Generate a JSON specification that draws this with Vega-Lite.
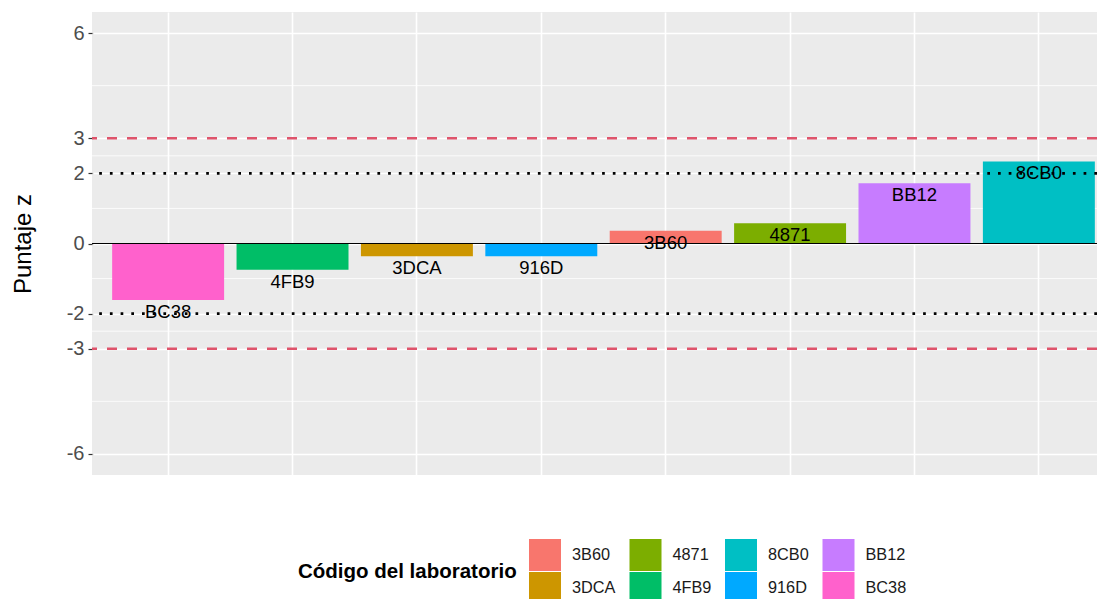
{
  "$schema": "https://vega.github.io/schema/vega-lite/v6.json",
  "width": 1005,
  "height": 463,
  "autosize": {"type": "none"},
  "padding": {"left": 92, "top": 12, "right": 0, "bottom": 124},
  "background": "white",
  "config": {"view": {"fill": "#EBEBEB", "stroke": null}, "font": "Liberation Sans"},
  "datasets": {
    "labs": [
      {"lab": "BC38", "z": -1.61},
      {"lab": "4FB9", "z": -0.75},
      {"lab": "3DCA", "z": -0.36},
      {"lab": "916D", "z": -0.36},
      {"lab": "3B60", "z": 0.36},
      {"lab": "4871", "z": 0.58},
      {"lab": "BB12", "z": 1.72},
      {"lab": "8CB0", "z": 2.34}
    ],
    "minor": [{"y": -4.5}, {"y": -2.5}, {"y": -1}, {"y": 1}, {"y": 2.5}, {"y": 4.5}],
    "zero": [{"y": 0}],
    "limits": [{"y": 3}, {"y": -3}],
    "warn": [{"y": 2}, {"y": -2}]
  },
  "layer": [
    {
      "data": {"name": "minor"},
      "mark": {"type": "rule", "color": "white", "strokeWidth": 0.8},
      "encoding": {"y": {"field": "y", "type": "quantitative", "scale": {"domain": [-6.6, 6.6], "nice": false, "zero": false}}}
    },
    {
      "data": {"name": "labs"},
      "mark": {"type": "bar"},
      "encoding": {
        "x": {
          "field": "lab", "type": "nominal",
          "sort": ["BC38", "4FB9", "3DCA", "916D", "3B60", "4871", "BB12", "8CB0"],
          "scale": {"type": "band", "range": [1.5, 1021.5], "paddingInner": 0.1, "paddingOuter": 0.15},
          "axis": {"title": null, "labels": false, "ticks": false, "domain": false, "grid": true, "gridColor": "white", "gridWidth": 1.6}
        },
        "y": {
          "field": "z", "type": "quantitative",
          "scale": {"domain": [-6.6, 6.6], "nice": false, "zero": false},
          "axis": {
            "title": "Puntaje z", "values": [-6, -3, -2, 0, 2, 3, 6],
            "labelExpr": "'' + datum.value",
            "grid": true, "gridColor": "white", "gridWidth": 1.6,
            "domain": false, "tickColor": "#333333", "tickSize": 4, "tickWidth": 1.2,
            "labelFontSize": 20, "labelColor": "#4D4D4D", "labelPadding": 4,
            "titleFontSize": 24, "titleFontWeight": "normal", "titleColor": "black", "titlePadding": 31
          }
        },
        "color": {
          "field": "lab", "type": "nominal",
          "scale": {
            "domain": ["3B60", "4871", "8CB0", "BB12", "3DCA", "4FB9", "916D", "BC38"],
            "range": ["#F8766D", "#7CAE00", "#00BFC4", "#C77CFF", "#CD9600", "#00BE67", "#00A9FF", "#FF61CC"]
          },
          "legend": {
            "orient": "none", "legendX": 206, "legendY": 527, "direction": "horizontal", "columns": 4,
            "title": "Código del laboratorio", "titleOrient": "left", "titleFontSize": 20.5, "titleFontWeight": "bold",
            "titleColor": "black", "titlePadding": 12, "titleAnchor": "middle", "titleBaseline": "middle", "titleLimit": 500,
            "symbolType": "square", "symbolSize": 1024, "symbolStrokeWidth": 0, "symbolOpacity": 1,
            "labelFontSize": 16.3, "labelColor": "#1A1A1A", "labelOffset": 11,
            "columnPadding": 13.5, "rowPadding": 1, "gridAlign": "each", "padding": 0
          }
        }
      }
    },
    {
      "data": {"name": "zero"},
      "mark": {"type": "rule", "color": "black", "strokeWidth": 1.2},
      "encoding": {"y": {"field": "y", "type": "quantitative", "scale": {"domain": [-6.6, 6.6], "nice": false, "zero": false}}}
    },
    {
      "data": {"name": "limits"},
      "mark": {"type": "rule", "color": "#DF536B", "strokeWidth": 2.6, "strokeDash": [10, 10]},
      "encoding": {"y": {"field": "y", "type": "quantitative", "scale": {"domain": [-6.6, 6.6], "nice": false, "zero": false}}}
    },
    {
      "data": {"name": "warn"},
      "mark": {"type": "rule", "color": "black", "strokeWidth": 2.7, "strokeDash": [2.7, 8]},
      "encoding": {"y": {"field": "y", "type": "quantitative", "scale": {"domain": [-6.6, 6.6], "nice": false, "zero": false}}}
    },
    {
      "data": {"name": "labs"},
      "mark": {"type": "text", "baseline": "top", "dy": 3, "fontSize": 18.5, "color": "black"},
      "encoding": {
        "x": {"field": "lab", "type": "nominal", "sort": ["BC38", "4FB9", "3DCA", "916D", "3B60", "4871", "BB12", "8CB0"]},
        "y": {"field": "z", "type": "quantitative", "scale": {"domain": [-6.6, 6.6], "nice": false, "zero": false}},
        "text": {"field": "lab"}
      }
    }
  ]
}
